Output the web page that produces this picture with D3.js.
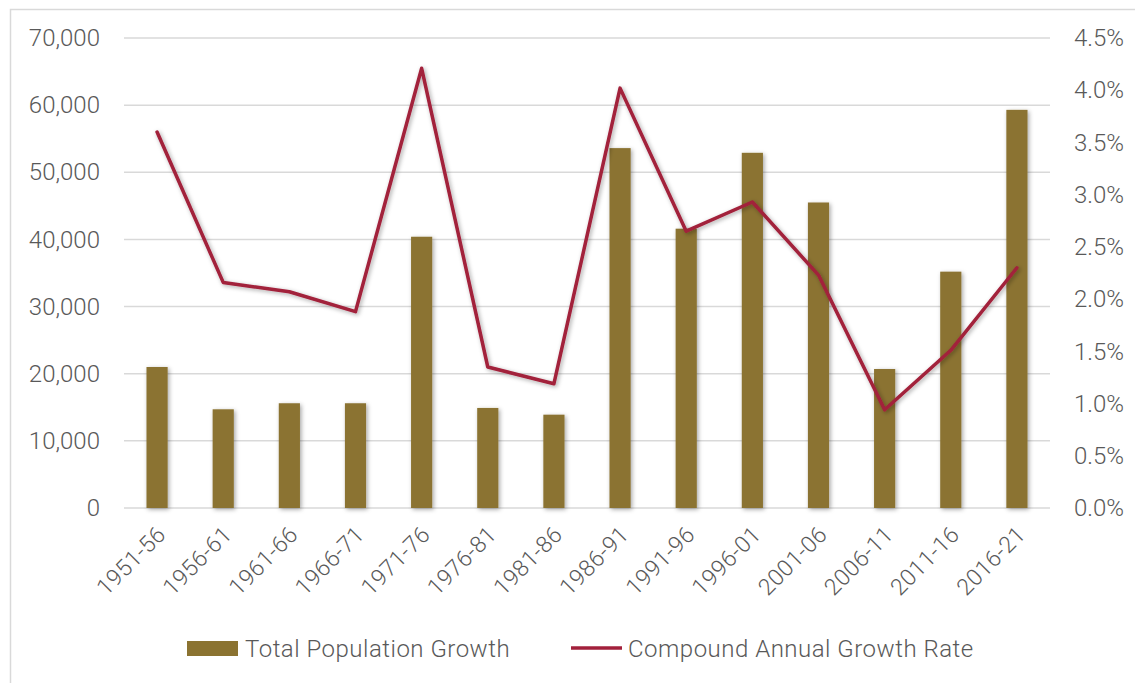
<!DOCTYPE html>
<html>
<head>
<meta charset="utf-8">
<script src="https://cdn.jsdelivr.net/npm/d3@7"></script>
<style>
  body { margin: 0; background: #fff; }
  svg { display: block; font-family: Roboto, "Noto Sans", sans-serif; font-weight: 300; }
</style>
</head>
<body>
<div id="chart"></div>
<script>
// periods
var periods = ["1951-56", "1956-61", "1961-66", "1966-71", "1971-76", "1976-81", "1981-86",
               "1986-91", "1991-96", "1996-01", "2001-06", "2006-11", "2011-16", "2016-21"];
// total population growth (persons)
var growth = [21000, 14700, 15600, 15600, 40400, 14900, 13900,
              53600, 41600, 52900, 45500, 20700, 35200, 59300];
// compound annual growth rate (fraction)
var cagr = [0.0360, 0.0216, 0.0207, 0.0188, 0.0421, 0.0135, 0.0119,
            0.0402, 0.0265, 0.0293, 0.0223, 0.0094, 0.0151, 0.0230];
var leftTicks = [0, 10000, 20000, 30000, 40000, 50000, 60000, 70000];
var rightTicks = [0, 0.005, 0.01, 0.015, 0.02, 0.025, 0.03, 0.035, 0.04, 0.045];

var W = 1135, H = 683;
var barColor = "#8b7331", lineColor = "#a2203b", textColor = "#595959", gridColor = "#d9d9d9";

var svg = d3.select("#chart").append("svg")
    .attr("width", W)
    .attr("height", H);

var defs = svg.append("defs");
defs.append("filter").attr("id", "shadow")
    .attr("x", "-50%").attr("y", "-20%").attr("width", "200%").attr("height", "140%")
  .append("feDropShadow")
    .attr("dx", 1.5).attr("dy", 1.5).attr("stdDeviation", 2)
    .attr("flood-color", "#000").attr("flood-opacity", 0.35);

// chart frame
svg.append("rect")
    .attr("x", 10.5).attr("y", 9.5)
    .attr("width", W + 20).attr("height", H + 20)
    .attr("fill", "none").attr("stroke", gridColor).attr("stroke-width", 1.5);

var x = d3.scaleBand().domain(periods).range([124, 1050]).paddingInner(0.68).paddingOuter(0.34);
var y = d3.scaleLinear().domain([0, 70000]).range([508, 38]);
var y2 = d3.scaleLinear().domain([0, 0.045]).range([508, 38]);

// gridlines
svg.append("g").selectAll("line").data(leftTicks).join("line")
    .attr("x1", 124).attr("x2", 1050)
    .attr("y1", function(d){ return y(d); })
    .attr("y2", function(d){ return y(d); })
    .attr("stroke", gridColor).attr("stroke-width", 1.5);

// left axis
var leftAxis = svg.append("g")
    .attr("transform", "translate(100,0)")
    .call(d3.axisLeft(y).tickValues(leftTicks).tickSize(0).tickPadding(0).tickFormat(d3.format(",")));
leftAxis.select(".domain").remove();
leftAxis.selectAll("text").attr("fill", textColor)
    .style("font-size", "24px").style("font-family", "Roboto").style("font-weight", 300);

// right axis
var rightAxis = svg.append("g")
    .attr("transform", "translate(1074,0)")
    .call(d3.axisRight(y2).tickValues(rightTicks).tickSize(0).tickPadding(0).tickFormat(d3.format(".1%")));
rightAxis.select(".domain").remove();
rightAxis.selectAll("text").attr("fill", textColor)
    .style("font-size", "24px").style("font-family", "Roboto").style("font-weight", 300);

// bars
svg.append("g").attr("filter", "url(#shadow)")
  .selectAll("rect").data(growth).join("rect")
    .attr("x", function(d, i){ return x(periods[i]); })
    .attr("y", function(d){ return y(d); })
    .attr("width", x.bandwidth())
    .attr("height", function(d){ return y(0) - y(d); })
    .attr("fill", barColor);

// line
var line = d3.line()
    .x(function(d, i){ return x(periods[i]) + x.bandwidth() / 2; })
    .y(function(d){ return y2(d); });
svg.append("path")
    .datum(cagr)
    .attr("d", line)
    .attr("fill", "none")
    .attr("stroke", lineColor)
    .attr("stroke-width", 3.5)
    .attr("stroke-linejoin", "round")
    .attr("stroke-linecap", "round")
    .attr("filter", "url(#shadow)");

// x labels
svg.append("g").selectAll("text").data(periods).join("text")
    .attr("transform", function(d){
        return "translate(" + (x(d) + x.bandwidth() / 2 + 10) + ",536) rotate(-45)";
    })
    .attr("text-anchor", "end")
    .attr("fill", textColor)
    .style("font-size", "23px")
    .style("letter-spacing", "0.4px")
    .text(function(d){ return d; });

// legend
var legend = svg.append("g").style("font-size", "24px").style("letter-spacing", "0.5px").attr("fill", textColor);
legend.append("rect")
    .attr("x", 187).attr("y", 641).attr("width", 51).attr("height", 15)
    .attr("fill", barColor);
legend.append("text").attr("x", 245).attr("y", 657).text("Total Population Growth");
legend.append("line")
    .attr("x1", 571).attr("x2", 622).attr("y1", 648).attr("y2", 648)
    .attr("stroke", lineColor).attr("stroke-width", 3.5);
legend.append("text").attr("x", 628).attr("y", 657).text("Compound Annual Growth Rate");
</script>
</body>
</html>
